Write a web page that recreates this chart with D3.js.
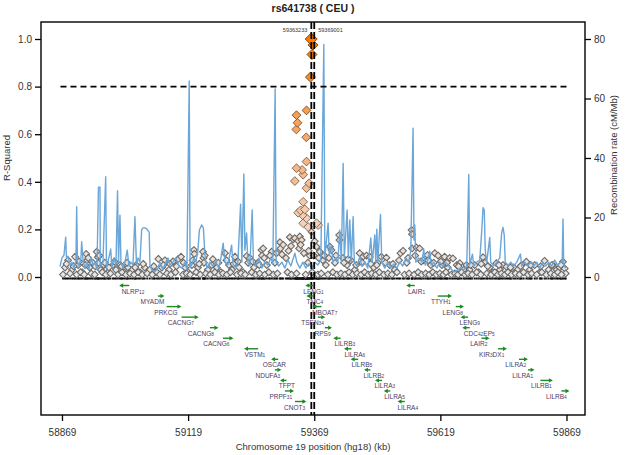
<!DOCTYPE html>
<html><head><meta charset="utf-8">
<script src="https://cdn.jsdelivr.net/npm/d3@7"></script>
<style>body{margin:0;background:#fff}svg{display:block}text{font-family:"Liberation Sans",Arial,sans-serif}</style>
</head><body><svg id="c" width="625" height="455"></svg>
<script>
const title = "rs641738 ( CEU )";
const xTitle = "Chromosome 19 position (hg18) (kb)";
const yTitle = "R-Squared";
const y2Title = "Recombination rate (cM/Mb)";
const xTicks = [58869, 59119, 59369, 59619, 59869];
const r2Ticks = [0, 0.2, 0.4, 0.6, 0.8, 1.0];
const recTicks = [0, 20, 40, 60, 80];
const threshold = 0.8;
const markerPos = [59363.233, 59369.001];
const markerLabels = ["59363233", "59369001"];
const indexSnpPos = 59363.0;

const recPos = [58865,58869,58873,58876.3,58877.9,58880.9,58884.8,58888.8,58892.8,58896.7,58898.1,58899.7,58902.7,58906.6,58908,58910.6,58914.6,58918.5,58922.5,58926.4,58930.4,58934.4,58938.3,58941.3,58944.3,58944.9,58950.2,58955.6,58957.2,58960.1,58965.5,58968.1,58972,58976,58979.1,58981.1,58983.9,58985.9,58989.8,58993.8,58998.4,59001.7,59005.7,59009.7,59013.6,59016.6,59019.6,59023.5,59026.9,59029.5,59033.4,59037.4,59041.9,59043.3,59047.3,59053.2,59059.2,59063.1,59069.1,59075,59079,59082.9,59088.9,59094.8,59100.8,59106.7,59112.7,59116.6,59121.2,59122.9,59126.5,59130.5,59134.5,59138.4,59141.4,59145.7,59149.3,59152.3,59156.2,59162.2,59168.1,59174.1,59180,59184,59188.5,59191.9,59197.8,59205.2,59207.8,59213.7,59217.7,59223,59225.6,59229.5,59231.5,59234.9,59237.5,59241.4,59246,59248.4,59253.3,59259.3,59265.2,59271.1,59277.1,59283,59287,59291.5,59293.5,59298.8,59304.8,59310.8,59316.7,59322.6,59330.6,59334.5,59340.5,59346.4,59352.4,59358.3,59364.3,59370.2,59376.1,59382.1,59388,59390,59396.5,59398.9,59403.3,59405.9,59411.8,59415.8,59419.7,59422.7,59426.3,59428.6,59434.2,59436.6,59439.5,59442.5,59446.1,59448.5,59453.4,59459.3,59463.3,59469.2,59475.2,59481.1,59484.1,59489,59491,59493,59495,59500.3,59502.9,59508.9,59514.8,59520.7,59526.7,59532.6,59538.6,59544.5,59550.5,59556.4,59560.4,59564.9,59566.7,59568.3,59570.3,59576.2,59582.2,59586.1,59589.1,59594,59598,59601,59605.9,59611.9,59617.8,59623.8,59629.7,59635.6,59641.6,59647.5,59653.5,59659.4,59665.4,59671.3,59675.3,59677.2,59682.6,59685.2,59691.1,59697.1,59701.1,59703.6,59706,59708,59710.9,59716.9,59718.8,59724.8,59730.7,59736.7,59740.6,59743.2,59745.6,59747.6,59752.5,59758.5,59764.4,59770.4,59777.7,59780.3,59786.2,59792.1,59798.1,59804,59810,59815.9,59821.9,59827.8,59833.7,59839.7,59845.6,59851.6,59857.5,59860.5,59862.1,59863.5,59867.4];
const recRate = [3.5,6.4,7.4,13.4,6.4,7,4,5,3,5.7,23.6,5,3.7,6.4,11.9,5.7,3,5,2.4,6.7,4,5,2.4,30.2,30.2,3.7,5,33.7,3,5,9.4,3,6.4,4,29,5,20.8,5,3,5,9,3.7,5,4,20.3,4,6.4,5,15.8,16.5,16.5,16.1,15,4,2.4,1.7,3,5,2.4,5,6.4,4,5,6.4,3.7,3,5,2.4,65.9,3,4.4,6.4,5,9,15.8,17.5,16.5,7.4,3,5,3.7,5,3,6.4,11.4,5,4,10.7,4.4,3,5,24.5,5,34.6,9,14.8,5,3.7,22.5,5,4,6.4,3,5,4,6.4,4.4,63.2,5,3.7,5,3,5.7,3.7,8,5,3,5,3,4.4,3,5,4,5.7,78.2,6.4,18.1,7.4,10.7,5,6.4,5,15.8,5,38.2,6.4,22.5,6.4,19.2,5,20.3,5,3.7,6.8,3.7,5,3,13.1,5,14.1,5,16.1,5,21,5,3,5,3,4.4,3,5,3.7,6.4,5,9,50,12.4,17.5,5,6.4,5,9.4,4,5.7,8.7,4,5,3,5,3.7,5,3.7,2.4,1.7,2.4,3,2.4,3.7,34.5,4,7.7,3.7,5,5.7,15.8,23.3,22.5,9,5,13.3,5,3.7,5,6.4,15,16.7,14.1,5,3.7,5,3.7,5,7.7,3.7,5,3.7,5,3.7,5,3,5,3.7,5,3.7,5.7,4,5,5,19.5,4,3];

// [position kb, r-squared]
const snps = [
[58875,.04],[58881,.07],[58889,.03],[58895,.085],[58901,.05],[58909,.02],[58917,.097],[58919,.07],[58924,.04],[58930,.06],[58938,.106],[58940,.083],[58941,.058],[58946,.03],[58952,.05],[58960,.02],[58970,.05],[58976,.03],[58984,.05],[58992,.02],[59000,.04],
[59008,.03],[59016,.05],[59023.5,.02],[59033,.04],[59043,.03],[59053,.02],[59060,.076],[59067,.04],[59073,.07],[59081,.03],[59089,.065],[59099,.075],[59105,.085],[59113,.04],[59119,.02],
[59126.5,.05],[59130.5,.113],[59131.5,.097],[59138.5,.04],[59148.5,.106],[59149.5,.08],[59150.5,.06],[59158,.03],[59168,.075],[59176,.04],[59184,.02],[59192,.1],[59200,.05],[59206,.03],[59212,.085],[59220,.04],[59228,.02],[59235,.088],[59241.5,.08],[59249.5,.04],[59257,.06],[59264.5,.113],[59265.5,.09],
[59267.8,.12],[59275,.05],[59284.5,.106],[59291,.06],[59301,.146],[59302,.12],[59307.5,.135],[59313,.08],[59320.7,.167],[59327,.158],[59330.5,.163],[59337,.152],[59340.5,.17],[59344,.155],[59348.5,.1],[59356.5,.06],[59360,.09],
[59370,.15],[59373.5,.127],[59380,.106],[59386,.07],[59392,.05],[59400,.127],[59403,.113],[59410,.06],[59418.5,.176],[59419,.155],[59426,.08],[59434,.05],[59441.5,.07],[59449.5,.03],[59459,.1],[59466,.086],[59472.5,.09],[59479,.085],[59487,.04],[59495,.06],
[59502,.085],[59512,.081],[59518.5,.05],[59528.5,.03],[59540,.1],[59545,.11],[59552.5,.06],[59562,.197],[59562.8,.18],[59563,.12],[59571.7,.124],[59578,.12],[59586,.07],[59593.5,.092],[59600,.05],[59608,.1],[59614.5,.09],[59622,.05],[59627.5,.085],[59633.5,.04],[59637.5,.08],
[59644,.078],[59651.5,.05],[59657.5,.058],[59665.5,.03],[59670.7,.05],[59677,.03],[59687,.05],[59695,.02],[59703.5,.083],[59707,.06],[59717,.04],[59723,.02],[59730,.058],[59737,.03],[59743,.05],[59750,.043],[59756.5,.02],[59764.5,.04],[59772,.03],[59780,.05],[59789.5,.064],[59796,.03],[59806,.05],[59816,.02],[59825.5,.068],[59833.5,.03],[59842,.05],[59849.5,.03],[59855.5,.04],[59862,.064],[59865.5,.036],[59867.5,.015],
[58871,.01],[58885,.015],[58898,.01],[58906,.02],[58913,.01],[58927,.015],[58934,.01],[58949,.02],[58956,.01],[58965,.015],[58980,.01],[58988,.02],[58996,.01],[59004,.015],[59012,.01],[59020,.02],[59028,.01],[59038,.015],[59048,.01],[59057,.02],[59063,.01],[59077,.015],[59085,.01],[59094,.02],[59109,.01],[59116,.015],[59123,.01],[59135,.02],[59143,.01],[59154,.015],[59163,.01],[59172,.02],[59180,.01],[59188,.015],[59196,.01],[59203,.02],[59216,.01],[59224,.015],[59232,.01],[59245,.02],[59253,.01],[59261,.015],[59271,.01],[59279,.02],[59288,.01],[59296,.015],[59316,.02],[59324,.01],[59334,.015],[59352,.01],[59365,.02],[59376,.01],[59383,.015],[59396,.01],[59406,.02],[59414,.01],[59422,.015],[59430,.01],[59438,.02],[59445,.01],[59454,.015],[59462,.01],[59469,.02],[59476,.01],[59483,.015],[59491,.01],[59498,.02],[59507,.01],[59515,.015],[59523,.01],[59533,.02],[59548,.01],[59557,.015],[59567,.01],[59575,.02],[59582,.01],[59590,.015],[59597,.01],[59604,.02],[59611,.01],[59618,.015],[59625,.01],[59630,.02],[59641,.01],[59648,.015],[59654,.01],[59661,.02],[59668,.01],[59674,.015],[59682,.01],[59691,.02],[59699,.01],[59711,.015],[59720,.01],[59727,.02],[59733,.01],[59740,.015],[59747,.01],[59753,.02],[59760,.01],[59768,.015],[59776,.01],[59784,.02],[59793,.01],[59800,.015],[59810,.01],[59820,.02],[59829,.01],[59838,.015],[59846,.01],[59852,.02],[59859,.01],
[58878,.055],[58892,.045],[58903,.065],[58915,.05],[58921,.08],[58935,.045],[58943,.09],[58954,.06],[58962,.04],[58973,.065],[58987,.045],[58998,.06],[59014,.04],[59030,.055],[59051,.045],[59070,.05],[59083,.055],[59096,.045],[59110,.06],[59128,.07],[59141,.055],[59152,.09],[59166,.05],[59179,.06],[59195,.07],[59209,.055],[59218,.065],[59238,.06],[59247,.065],[59260,.05],[59270,.08],[59281,.09],[59294,.1],[59305,.095],[59318,.11],[59323,.13],[59339,.12],[59342,.135],[59358,.11],[59368,.09],[59378,.08],[59389,.09],[59398,.08],[59412,.09],[59428,.06],[59436,.075],[59452,.05],[59464,.06],[59481,.055],[59493,.05],[59510,.06],[59525,.055],[59537,.07],[59555,.08],[59569,.09],[59581,.065],[59595,.07],[59606,.06],[59620,.065],[59632,.06],[59655,.045],[59679,.05],[59700,.055],[59713,.045],[59735,.05],[59758,.04],[59778,.045],[59798,.05],[59818,.045],[59840,.05],[59858,.05],
[59366.5,.975],[59364.5,.935],[59361.5,.84],[59353.7,.70],[59333.9,.68],[59335.9,.648],[59333.5,.62],[59353.2,.587],[59333.9,.457],[59345,.45],[59347,.43],[59330.6,.403],[59353.7,.485],[59358.9,.394],[59353.7,.373],[59347,.316],[59341.9,.28],[59337.1,.27],[59350.4,.284],[59345.8,.26],[59353.7,.247],[59373.5,.226],[59356.9,.21],[59347,.226],[59363.6,.19],[59376.8,.218],
[indexSnpPos, 1.0]
];

const geneNames  = ["NLRP12","LENG1","LAIR1","MYADM","TMC4","TTYH1","PRKCG","MBOAT7","LENG8","CACNG7","TSEN34","LENG9","CACNG8","RPS9","CDC42EP5","CACNG6","LILRB3","LAIR2","VSTM1","LILRA6","KIR3DX1","OSCAR","LILRB5","LILRA2","NDUFA3","LILRB2","LILRA1","TFPT","LILRA3","LILRB1","PRPF31","LILRA5","LILRB4","CNOT3","LILRA4"];
const geneStart  = [58985.3,59354.4,59554.4,59059.2,59356.3,59613.9,59076.4,59368.2,59649.5,59106.1,59376.1,59662.0,59162.2,59390.0,59665.4,59188.0,59409.8,59700.4,59232.9,59431.0,59733.3,59286.4,59444.1,59774.9,59291.0,59470.6,59792.8,59304.2,59492.4,59817.3,59310.8,59509.9,59858.9,59330.6,59537.2];
const geneEnd    = [59002.3,59368.2,59568.3,59069.1,59366.2,59639.0,59102.8,59383.5,59662.8,59137.0,59388.0,59673.9,59176.1,59401.3,59677.3,59205.9,59421.1,59713.5,59257.9,59442.9,59747.9,59297.5,59456.0,59789.6,59300.9,59480.5,59802.7,59314.1,59503.5,59839.1,59326.0,59519.8,59872.0,59350.4,59548.5];
const geneStrand = ["-","-","-","+","-","+","+","-","+","+","+","-","+","+","-","+","-","+","-","-","+","-","-","+","+","-","+","-","-","+","+","-","+","+","-"];
const geneRow    = [0,0,0,1,1,1,2,2,2,3,3,3,4,4,4,5,5,5,6,6,6,7,7,7,8,8,8,9,9,9,10,10,10,11,11];
const geneLabelAt= [59009.7,59367.6,59571.7,59048.3,59370.2,59619.8,59075.0,59390.0,59643.6,59104.7,59365.8,59677.3,59144.4,59385.6,59696.1,59175.1,59429.6,59695.1,59251.3,59449.4,59720.8,59290.0,59463.3,59768.4,59277.1,59487.1,59782.3,59314.7,59508.9,59819.3,59302.8,59528.1,59849.0,59330.0,59554.4];

const svg = d3.select("#c");
const L = 41, T = 22, R = 585, B = 415;
const x = d3.scaleLinear().domain([58827.4, 59905.7]).range([L, R]);
const y = d3.scaleLinear().domain([0, 1]).range([277, 39]);
const yRec = d3.scaleLinear().domain([0, 80]).range([277, 39]);
const yRow = d3.scaleLinear().domain([0, 11]).range([285.5, 401.5]);
const fillC = d3.scaleLinear().domain([0, 0.2, 0.45, 0.65, 0.85, 1])
  .range(["#e8e8e8", "#f3d4bf", "#f6b888", "#f5a35c", "#fa8a22", "#ff7a00"]).clamp(true);

svg.append("text").attr("x", 313).attr("y", 12).attr("text-anchor", "middle")
  .attr("font-size", 10.5).attr("font-weight", "bold").attr("fill", "#222").text(title);

function styleAxis(g) {
  g.select(".domain").remove();
  g.selectAll("line").attr("stroke", "#000").attr("stroke-width", 1.3);
  g.selectAll("text").attr("font-size", 10).attr("fill", "#333").attr("font-family", "Liberation Sans, Arial, sans-serif");
}
svg.append("g").attr("transform", `translate(${L},0)`)
  .call(d3.axisLeft(y).tickValues(r2Ticks).tickFormat(d3.format(".1f")).tickSize(6).tickPadding(3)).call(styleAxis);
svg.append("g").attr("transform", `translate(${R},0)`)
  .call(d3.axisRight(yRec).tickValues(recTicks).tickFormat(d3.format("d")).tickSize(6).tickPadding(3)).call(styleAxis);
svg.append("g").attr("transform", `translate(0,${B})`)
  .call(d3.axisBottom(x).tickValues(xTicks).tickFormat(d3.format("d")).tickSize(6).tickPadding(8)).call(styleAxis);

svg.append("text").attr("transform", "translate(10,158) rotate(-90)").attr("text-anchor", "middle")
  .attr("font-size", 9.5).attr("fill", "#333").text(yTitle);
svg.append("text").attr("transform", "translate(617,155) rotate(-90)").attr("text-anchor", "middle")
  .attr("font-size", 9.5).attr("fill", "#333").text(y2Title);
svg.append("text").attr("x", 313).attr("y", 450).attr("text-anchor", "middle")
  .attr("font-size", 9.5).attr("fill", "#333").text(xTitle);

const diamond = s => `M0,${-s}L${s},0L0,${s}L${-s},0Z`;
const sizeOf = d => d[0] === indexSnpPos && d[1] === 1 ? 6 : d[1] >= 0.8 ? 5 : d[1] >= 0.2 ? 4.4 : 3.4;

svg.append("g").selectAll("rect").data(snps).join("rect")
  .attr("x", d => x(d[0]) - 1).attr("y", y(0) + 0.5).attr("width", 2).attr("height", 2).attr("fill", "#111");

const low = snps.filter(d => d[1] < 0.2);
const high = snps.filter(d => d[1] >= 0.2).sort((a, b) => a[1] - b[1]);

svg.append("g").selectAll("path").data(low).join("path")
  .attr("transform", d => `translate(${x(d[0])},${y(d[1])})`)
  .attr("d", d => diamond(sizeOf(d)))
  .attr("fill", d => fillC(d[1])).attr("stroke", "#6a6a6a").attr("stroke-width", 1.1);

svg.append("path").datum(recPos.map((p, i) => [p, recRate[i]]))
  .attr("d", d3.line().x(d => x(d[0])).y(d => yRec(d[1])))
  .attr("fill", "none").attr("stroke", "#6aa6d8").attr("stroke-width", 1.4).attr("stroke-linejoin", "round");

svg.append("g").selectAll("path").data(high).join("path")
  .attr("transform", d => `translate(${x(d[0])},${y(d[1])})`)
  .attr("d", d => diamond(sizeOf(d)))
  .attr("fill", d => fillC(d[1])).attr("stroke", d => d3.color(fillC(d[1])).darker(2)).attr("stroke-width", 0.9);

svg.append("line").attr("x1", x(xTicks[0]) - 1.5).attr("x2", x(xTicks[xTicks.length - 1]))
  .attr("y1", y(threshold)).attr("y2", y(threshold))
  .attr("stroke", "#000").attr("stroke-width", 1.8).attr("stroke-dasharray", "6,4");

svg.append("g").selectAll("line").data(markerPos).join("line")
  .attr("x1", d => x(d)).attr("x2", d => x(d)).attr("y1", T).attr("y2", B)
  .attr("stroke", "#000").attr("stroke-width", 1.8).attr("stroke-dasharray", "7,3");
svg.append("g").selectAll("text").data(markerLabels).join("text")
  .attr("x", (d, i) => x(markerPos[i]) + (i === 0 ? -4 : 4)).attr("y", 32)
  .attr("text-anchor", (d, i) => i === 0 ? "end" : "start")
  .attr("font-size", 5.5).attr("fill", "#333").text(d => d);

const gG = svg.append("g");
geneNames.forEach((name, i) => {
  const yy = yRow(geneRow[i]);
  const x1 = x(geneStart[i]), x2 = x(geneEnd[i]);
  gG.append("line").attr("x1", x1).attr("x2", x2).attr("y1", yy).attr("y2", yy)
    .attr("stroke", "#1f8a24").attr("stroke-width", 1.4);
  const tip = geneStrand[i] === "+" ? x2 : x1;
  const dir = geneStrand[i] === "+" ? 1 : -1;
  gG.append("path").attr("d", `M${tip + dir * 1.5},${yy}L${tip - dir * 2.5},${yy - 2.2}L${tip - dir * 2.5},${yy + 2.2}Z`)
    .attr("fill", "#1f8a24");
  const t = gG.append("text").attr("x", x(geneLabelAt[i])).attr("y", yy + 8)
    .attr("text-anchor", "middle").attr("fill", "#4a3a62").attr("font-size", 6.5);
  (name.match(/[A-Z]+|[0-9]+/g) || [name]).forEach(part => {
    t.append("tspan").attr("font-size", /[0-9]/.test(part) ? 4.8 : 6.5).text(part);
  });
});

svg.append("rect").attr("x", L).attr("y", T).attr("width", R - L).attr("height", B - T)
  .attr("fill", "none").attr("stroke", "#000").attr("stroke-width", 1.4);
</script></body></html>
